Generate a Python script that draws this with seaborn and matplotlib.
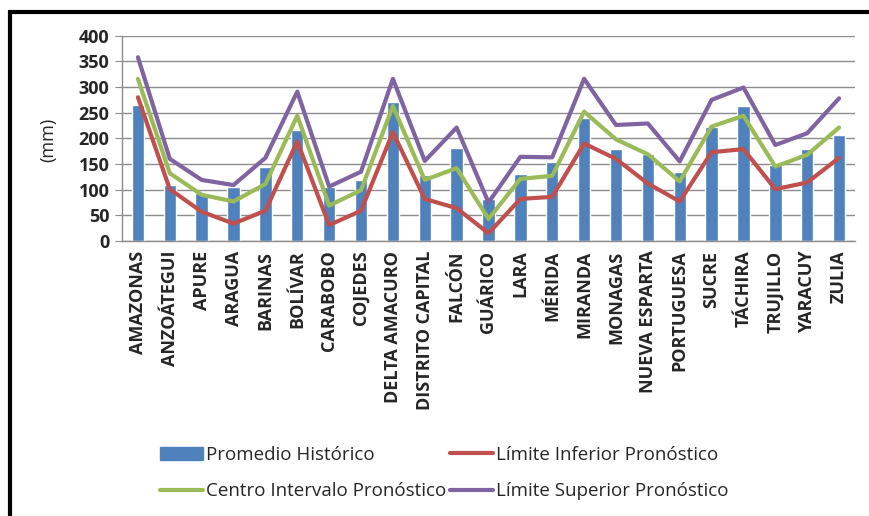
import numpy as np
import pandas as pd
import matplotlib
matplotlib.use("Agg")
import matplotlib.pyplot as plt
from matplotlib.patches import Rectangle
from matplotlib.lines import Line2D
from matplotlib.ticker import FixedLocator, NullFormatter
import seaborn as sns

# DATA ----------------------
estados = ["AMAZONAS", "ANZOÁTEGUI", "APURE", "ARAGUA", "BARINAS", "BOLÍVAR",
           "CARABOBO", "COJEDES", "DELTA AMACURO", "DISTRITO CAPITAL", "FALCÓN",
           "GUÁRICO", "LARA", "MÉRIDA", "MIRANDA", "MONAGAS", "NUEVA ESPARTA",
           "PORTUGUESA", "SUCRE", "TÁCHIRA", "TRUJILLO", "YARACUY", "ZULIA"]
promedio = [265, 109, 94, 106, 145, 216, 106, 119, 271, 129, 182, 82, 130,
            153, 240, 179, 169, 135, 223, 264, 149, 179, 206]
lim_inf = [280, 101, 57, 34, 59, 194, 31, 59, 212, 82, 64, 15, 82,
           86, 190, 160, 112, 77, 173, 179, 101, 114, 162]
centro = [316, 132, 90, 77, 111, 244, 69, 99, 263, 119, 142, 43, 121,
          127, 252, 198, 169, 116, 223, 244, 145, 168, 221]
lim_sup = [358, 160, 119, 109, 162, 291, 106, 135, 316, 156, 221, 75, 164,
           163, 316, 226, 229, 155, 275, 299, 187, 210, 278]

labels = ["Promedio Histórico", "Límite Inferior Pronóstico",
          "Centro Intervalo Pronóstico", "Límite Superior Pronóstico"]
colors = ["#4F81BD", "#C0504D", "#9BBB59", "#8064A2"]

# PLOT ----------------------
sns.set_style("white")
plt.rcParams["font.family"] = ["Open Sans", "DejaVu Sans"]

W, H = 869, 516
fig = plt.figure(figsize=(W / 100, H / 100), dpi=100)
ax = fig.add_axes([122 / W, 1 - 241 / H, (855 - 122) / W, (241 - 35.7) / H])

df = pd.DataFrame({"estado": estados, "promedio": promedio})
sns.barplot(data=df, x="estado", y="promedio", color=colors[0], width=0.39,
            saturation=1, ax=ax, zorder=2)

xpos = np.arange(len(estados))
for vals, c in zip([lim_inf, centro, lim_sup], colors[1:]):
    sns.lineplot(x=xpos, y=vals, color=c, lw=3, sort=False, ax=ax, zorder=3)

ax.set_xlim(-0.5, len(estados) - 0.5)
ax.set_ylim(0, 400)
ax.set_yticks(range(0, 401, 50))
ax.grid(axis="y", color="#8c8c8c", lw=1, zorder=0)
ax.set_axisbelow(True)
for s in ["top", "right"]:
    ax.spines[s].set_visible(False)
for s in ["left", "bottom"]:
    ax.spines[s].set_color("#8c8c8c")
    ax.spines[s].set_linewidth(1)

ax.set_xticks(xpos)
ax.set_xticklabels(estados, rotation=90, fontsize=13, fontweight="bold")
ax.tick_params(axis="x", length=0, pad=7)
ax.xaxis.set_minor_locator(FixedLocator(np.arange(-0.5, len(estados), 1)))
ax.xaxis.set_minor_formatter(NullFormatter())
ax.tick_params(axis="x", which="minor", length=5, color="#8c8c8c", direction="out")
ax.tick_params(axis="y", length=5, color="#8c8c8c", labelsize=13, pad=4, left=True)
for t in ax.get_yticklabels():
    t.set_fontweight("bold")
ax.set_xlabel("")
ax.set_ylabel("")
fig.text(48 / W, 1 - 140 / H, "(mm)", rotation=90, fontsize=13,
         ha="center", va="center")

# legend
handles = [Rectangle((0, 0), 1, 1, color=colors[0]),
           Line2D([], [], color=colors[1], lw=3),
           Line2D([], [], color=colors[2], lw=3),
           Line2D([], [], color=colors[3], lw=3)]
order = [0, 2, 1, 3]
fig.legend([handles[i] for i in order], [labels[i] for i in order],
           loc="center", bbox_to_anchor=(444 / W, 1 - 473 / H), ncol=2,
           frameon=False, fontsize=13.5, handlelength=2.3, handletextpad=0.15,
           columnspacing=0.2, labelspacing=1.0)

# outer frame (cut off at right and bottom, like the source)
fig.add_artist(Rectangle((9.5 / W, -0.2), 1.2, 1.2 - 12 / H,
                         transform=fig.transFigure, fill=False,
                         edgecolor="black", lw=3, clip_on=False))

fig.savefig("out.png", dpi=100)
